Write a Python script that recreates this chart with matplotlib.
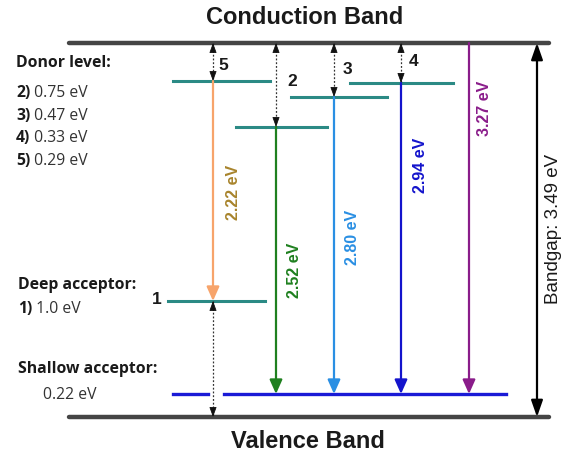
import numpy as np
import matplotlib.pyplot as plt

# energy scale (eV, valence band = 0)
bandgap = 3.49

# levels as drawn (eV above valence band)
donor_names = ['5', '2', '3', '4']
donor_levels = [3.135, 2.706, 2.986, 3.117]
deep_level = 1.083
shallow_level = 0.215

# transitions and labels
trans_labels = ['2.22 eV', '2.52 eV', '2.80 eV', '2.94 eV', '3.27 eV']
trans_colors = ['#f7a46b', '#1f801f', '#2a8fe3', '#1414cc', '#8a1c8a']
label_colors = ['#a8842c', '#1f801f', '#2a8fe3', '#1414cc', '#8a1c8a']

legend_donor = [('2)', '0.75 eV'), ('3)', '0.47 eV'), ('4)', '0.33 eV'), ('5)', '0.29 eV')]

# layout (x in pixels across the figure)
px_per_ev = 374 / bandgap
band_x = (69, 549)
donor_x = [(173, 270), (236, 327), (291, 387), (350, 453)]
trans_x = [213, 276, 334, 401, 469]
deep_x = (168, 265)
shallow_segs = [(173, 208), (224, 506)]
teal = '#2b8a85'
band_col = '#454545'


def ev(yp):
    # pixel row -> energy
    return (417 - yp) / px_per_ev


fig = plt.figure(figsize=(5.61, 4.57), dpi=100)
ax = fig.add_axes([0, 0, 1, 1])
ax.set_xlim(0, 561)
ax.set_ylim(ev(457), ev(0))
ax.axis('off')

# bands
ax.plot(band_x, [bandgap, bandgap], color=band_col, lw=3.2, solid_capstyle='round')
ax.plot(band_x, [0, 0], color=band_col, lw=3.2, solid_capstyle='round')
ax.text(305, ev(17), 'Conduction Band', ha='center', va='center',
        fontsize=17, fontweight='bold', family='Liberation Sans', color='#1a1a1a')
ax.text(308, ev(441), 'Valence Band', ha='center', va='center',
        fontsize=17, fontweight='bold', family='Liberation Sans', color='#1a1a1a')

# donor and acceptor levels
for (x0, x1), e in zip(donor_x, donor_levels):
    ax.plot([x0, x1], [e, e], color=teal, lw=2.2)
ax.plot(deep_x, [deep_level, deep_level], color=teal, lw=2.2)
for x0, x1 in shallow_segs:
    ax.plot([x0, x1], [shallow_level, shallow_level], color='#1a1ad6', lw=2.4)


# dotted double arrows (ionisation energies)
def dotted_arrow(x, y0, y1):
    ax.plot([x, x], [y0, y1], color='#333333', lw=0.9, ls=(0, (1.5, 1.5)))
    d = 9 / px_per_ev
    s = 1 if y1 > y0 else -1
    for ya, yb in [(y0, y0 + s * d), (y1, y1 - s * d)]:
        ax.annotate('', xy=(x, ya), xytext=(x, yb),
                    arrowprops=dict(arrowstyle='-|>,head_length=0.6,head_width=0.22',
                                    color='#111111', lw=0.6, shrinkA=0, shrinkB=0))


for x, e in zip(trans_x[:4], donor_levels):
    dotted_arrow(x, bandgap, e)
dotted_arrow(trans_x[0], deep_level, 0)

# level numbers
num_pos = [(223, 65), (292, 82), (347, 70), (414, 61)]
for name, (x, yp) in zip(donor_names, num_pos):
    ax.text(x, ev(yp), name, ha='center', va='center', fontsize=12.5,
            fontweight='bold', family='Liberation Sans', color='#1a1a1a')
ax.text(157, ev(299), '1', ha='center', va='center', fontsize=12.5,
        fontweight='bold', family='Liberation Sans', color='#1a1a1a')

# recombination transitions
starts = [donor_levels[0], donor_levels[1], donor_levels[2], donor_levels[3], bandgap]
ends = [deep_level, shallow_level, shallow_level, shallow_level, shallow_level]
for x, y0, y1, c in zip(trans_x, starts, ends, trans_colors):
    ax.annotate('', xy=(x, y1), xytext=(x, y0),
                arrowprops=dict(arrowstyle='-|>,head_length=0.85,head_width=0.38',
                                color=c, lw=1.6, shrinkA=0, shrinkB=0))

label_pos = [(234, 192), (295, 270), (353, 237), (421, 165), (485, 108)]
for (x, yp), t, c in zip(label_pos, trans_labels, label_colors):
    ax.text(x, ev(yp), t, rotation=90, ha='center', va='center',
            fontsize=11.5, fontweight='bold', family='Liberation Sans', color=c)

# bandgap arrow
ax.annotate('', xy=(537, bandgap), xytext=(537, 0),
            arrowprops=dict(arrowstyle='<|-|>,head_length=1.0,head_width=0.35',
                            color='black', lw=1.6, shrinkA=0, shrinkB=0))
ax.text(554, ev(229), 'Bandgap: 3.49 eV', rotation=90, ha='center',
        va='center', fontsize=13.5, family='Liberation Sans', color='#1a1a1a')

# left-hand legend text
lf = 'Open Sans'
fs = 11.3
ax.text(16, ev(63), 'Donor level:', fontsize=fs, fontweight='bold',
        family=lf, va='center', color='#1a1a1a')
for i, (num, val) in enumerate(legend_donor):
    t = ax.text(16, ev(93 + i * 22.7), num, fontsize=fs, fontweight='bold',
                family=lf, va='center', color='#1a1a1a')
    ax.annotate(' ' + val, xy=(1, 0.5), xycoords=t, va='center', ha='left',
                fontsize=fs, family=lf, color='#333333')

ax.text(18, ev(285), 'Deep acceptor:', fontsize=fs, fontweight='bold',
        family=lf, va='center', color='#1a1a1a')
t = ax.text(18, ev(309), '1)', fontsize=fs, fontweight='bold',
            family=lf, va='center', color='#1a1a1a')
ax.annotate(' 1.0 eV', xy=(1, 0.5), xycoords=t, va='center', ha='left',
            fontsize=fs, family=lf, color='#333333')

ax.text(18, ev(369), 'Shallow acceptor:', fontsize=fs, fontweight='bold',
        family=lf, va='center', color='#1a1a1a')
ax.text(43, ev(395), '0.22 eV', fontsize=fs, family=lf,
        va='center', color='#333333')

fig.savefig('out.png', dpi=100)
